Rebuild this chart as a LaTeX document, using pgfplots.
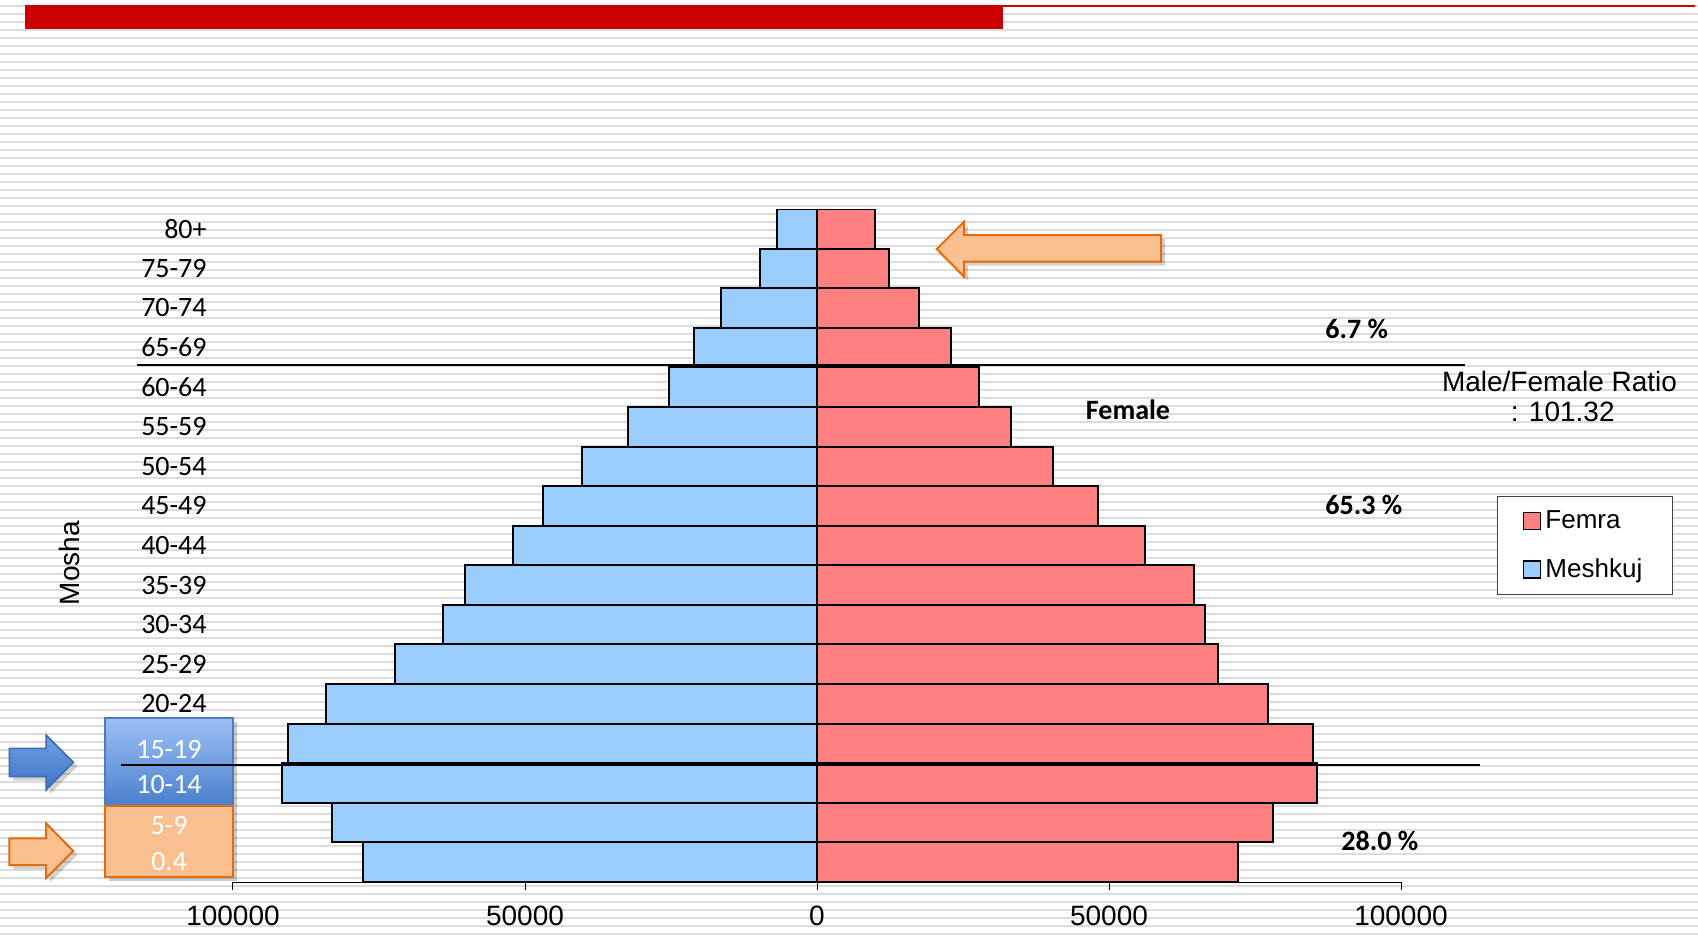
\documentclass[border=0pt]{standalone}
\usepackage{pgfplots}
\pgfplotsset{compat=1.18}
\usepackage{pgfplotstable}
\usepackage{fontspec}
\setmainfont{Liberation Sans}
\newfontfamily\calibri{Carlito}
\newcommand{\fsz}{\fontsize{14pt}{16pt}\selectfont}
\newcommand{\fsl}{\fontsize{13pt}{15pt}\selectfont}
\definecolor{malec}{HTML}{99CCFF}
\definecolor{femc}{HTML}{FF8080}
\definecolor{slidered}{HTML}{CC0000}
\definecolor{stripe}{HTML}{DCDCDC}
\definecolor{orfill}{HTML}{FAC090}
\definecolor{ordraw}{HTML}{E46C0A}
\definecolor{bltop}{HTML}{9DC0F5}
\definecolor{blbot}{HTML}{4A7FCC}
\definecolor{bldraw}{HTML}{4A7EBB}
\definecolor{arrtop}{HTML}{6FA0E6}
\definecolor{arrbot}{HTML}{3F74C4}
\definecolor{arrdraw}{HTML}{3A6AB0}

\pgfplotstableread{
idx age male female
0 0-4 77700 72150
1 5-9 83100 78100
2 10-14 91550 85550
3 15-19 90500 84950
4 20-24 84150 77200
5 25-29 72300 68650
6 30-34 64000 66450
7 35-39 60200 64600
8 40-44 52000 56100
9 45-49 46850 48200
10 50-54 40200 40450
11 55-59 32300 33250
12 60-64 25350 27700
13 65-69 21100 22900
14 70-74 16400 17400
15 75-79 9830 12400
16 80+ 6850 10000
}\pyr

\begin{document}
\begin{tikzpicture}
\begin{scope}[x=0.5pt,y=-0.5pt]
\useasboundingbox (0,0) rectangle (1698,937);
\fill[white] (0,0) rectangle (1698,937);
\foreach \k in {0,...,116} {\draw[stripe, line width=1pt] (0,{6+8*\k}) -- (1698,{6+8*\k});}
\fill[slidered] (25,5) rectangle (1003,29);
\draw[slidered, line width=1pt] (25,6) -- (1695,6);
\end{scope}

\begin{axis}[
  at={(116.5pt,-441pt)}, anchor=south west,
  scale only axis, width=584pt, height=336.5pt,
  xbar, bar width=1, bar shift=0pt,
  xmin=-100000, xmax=100000, ymin=-0.5, ymax=16.5,
  axis x line*=bottom, axis y line*=left,
  y axis line style={draw=none},
  x axis line style={black, line width=0.5pt, -},
  scaled x ticks=false,
  xtick={-100000,-50000,0,50000,100000},
  xticklabels={100000,50000,0,50000,100000},
  ytick={0,...,16},
  yticklabels={,,,,20-24,25-29,30-34,35-39,40-44,45-49,50-54,55-59,60-64,65-69,70-74,75-79,80+},
  tick align=outside, major tick length=4pt,
  xtick style={black, line width=0.5pt},
  ytick style={draw=none},
  /pgf/number format/assume math mode=true,
  xticklabel style={font=\fsz, yshift=-4.5pt},
  yticklabel style={font=\calibri\fsz, anchor=east, inner sep=0pt, xshift=-9pt},
  ylabel={Mosha},
  ylabel style={at={(axis description cs:-0.1396,0.474)}, anchor=center, font=\fsz},
  legend style={at={(axis description cs:1.082,0.5736)}, anchor=north west,
    draw=black!75, line width=0.5pt, fill=white, font=\fsl,
    inner xsep=13pt, inner ysep=5pt, row sep=9.6pt, cells={anchor=west}},
]
\addplot[fill=femc, draw=black, line width=1pt,
  legend image code/.code={\draw[fill=femc, draw=black, line width=0.6pt] (0pt,-4.25pt) rectangle (8.5pt,4.25pt);}]
  table[x=female, y=idx]{\pyr};
\addlegendentry{Femra}
\addplot[fill=malec, draw=black, line width=1pt,
  legend image code/.code={\draw[fill=malec, draw=black, line width=0.6pt] (0pt,-4.25pt) rectangle (8.5pt,4.25pt);}]
  table[x expr=-\thisrow{male}, y=idx]{\pyr};
\addlegendentry{Meshkuj}
\end{axis}

\begin{scope}[x=0.5pt,y=-0.5pt]
% upper separator line
\draw[black, line width=1pt] (137,364.5) -- (1465,364.5);
% blue box
\fill[black, opacity=0.2] (109,722) rectangle (237,810);
\shade[top color=bltop, bottom color=blbot] (105,718) rectangle (233,806);
\draw[bldraw, line width=0.75pt] (105,718) rectangle (233,806);
% orange box
\fill[black, opacity=0.2] (109,810) rectangle (237,881);
\fill[orfill] (105,806) rectangle (233,877);
\draw[ordraw, line width=1pt] (105,806) rectangle (233,877);
% lower separator line
\draw[black, line width=1pt] (121,764.5) -- (1480,764.5);
% box texts
\node[white, font=\calibri\fsz] at (169,750) {15-19};
\node[white, font=\calibri\fsz] at (169,785) {10-14};
\node[white, font=\calibri\fsz] at (169,826) {5-9};
\node[white, font=\calibri\fsz] at (169,862) {0.4};
% top orange arrow
\fill[black, opacity=0.18] (940.7,253) -- (968,225.7) -- (968,239) -- (1165,239) -- (1165,265.7) -- (968,265.7) -- (968,280.7) -- cycle;
\filldraw[fill=orfill, draw=ordraw, line width=1pt] (936.7,249) -- (964,221.7) -- (964,235) -- (1161,235) -- (1161,261.7) -- (964,261.7) -- (964,276.7) -- cycle;
% blue arrow
\fill[black, opacity=0.18] (13.3,752.3) -- (50,752.3) -- (50,739) -- (77.3,766.3) -- (50,794) -- (50,780.7) -- (13.3,780.7) -- cycle;
\shade[top color=arrtop, bottom color=arrbot] (9.3,748.3) -- (46,748.3) -- (46,735) -- (73.3,762.3) -- (46,790) -- (46,776.7) -- (9.3,776.7) -- cycle;
\draw[arrdraw, line width=0.75pt] (9.3,748.3) -- (46,748.3) -- (46,735) -- (73.3,762.3) -- (46,790) -- (46,776.7) -- (9.3,776.7) -- cycle;
% lower orange arrow
\fill[black, opacity=0.18] (13.3,842.3) -- (50,842.3) -- (50,827.3) -- (77.3,855) -- (50,882.3) -- (50,869) -- (13.3,869) -- cycle;
\filldraw[fill=orfill, draw=ordraw, line width=1pt] (9.3,838.3) -- (46,838.3) -- (46,823.3) -- (73.3,851) -- (46,878.3) -- (46,865) -- (9.3,865) -- cycle;
% annotations
\node[font=\calibri\bfseries\fsz] at (1128,410) {Female};
\node[font=\calibri\bfseries\fsz, anchor=west, inner sep=0pt] at (1325,329) {6.7 \%};
\node[font=\calibri\bfseries\fsz, anchor=west, inner sep=0pt] at (1325,505) {65.3 \%};
\node[font=\calibri\bfseries\fsz, anchor=west, inner sep=0pt] at (1341,841) {28.0 \%};
\node[font=\fsz] at (1559.5,381) {Male/Female Ratio};
\node[font=\fsz] at (1562.7,412) {: 101.32};
\end{scope}
\end{tikzpicture}
\end{document}
